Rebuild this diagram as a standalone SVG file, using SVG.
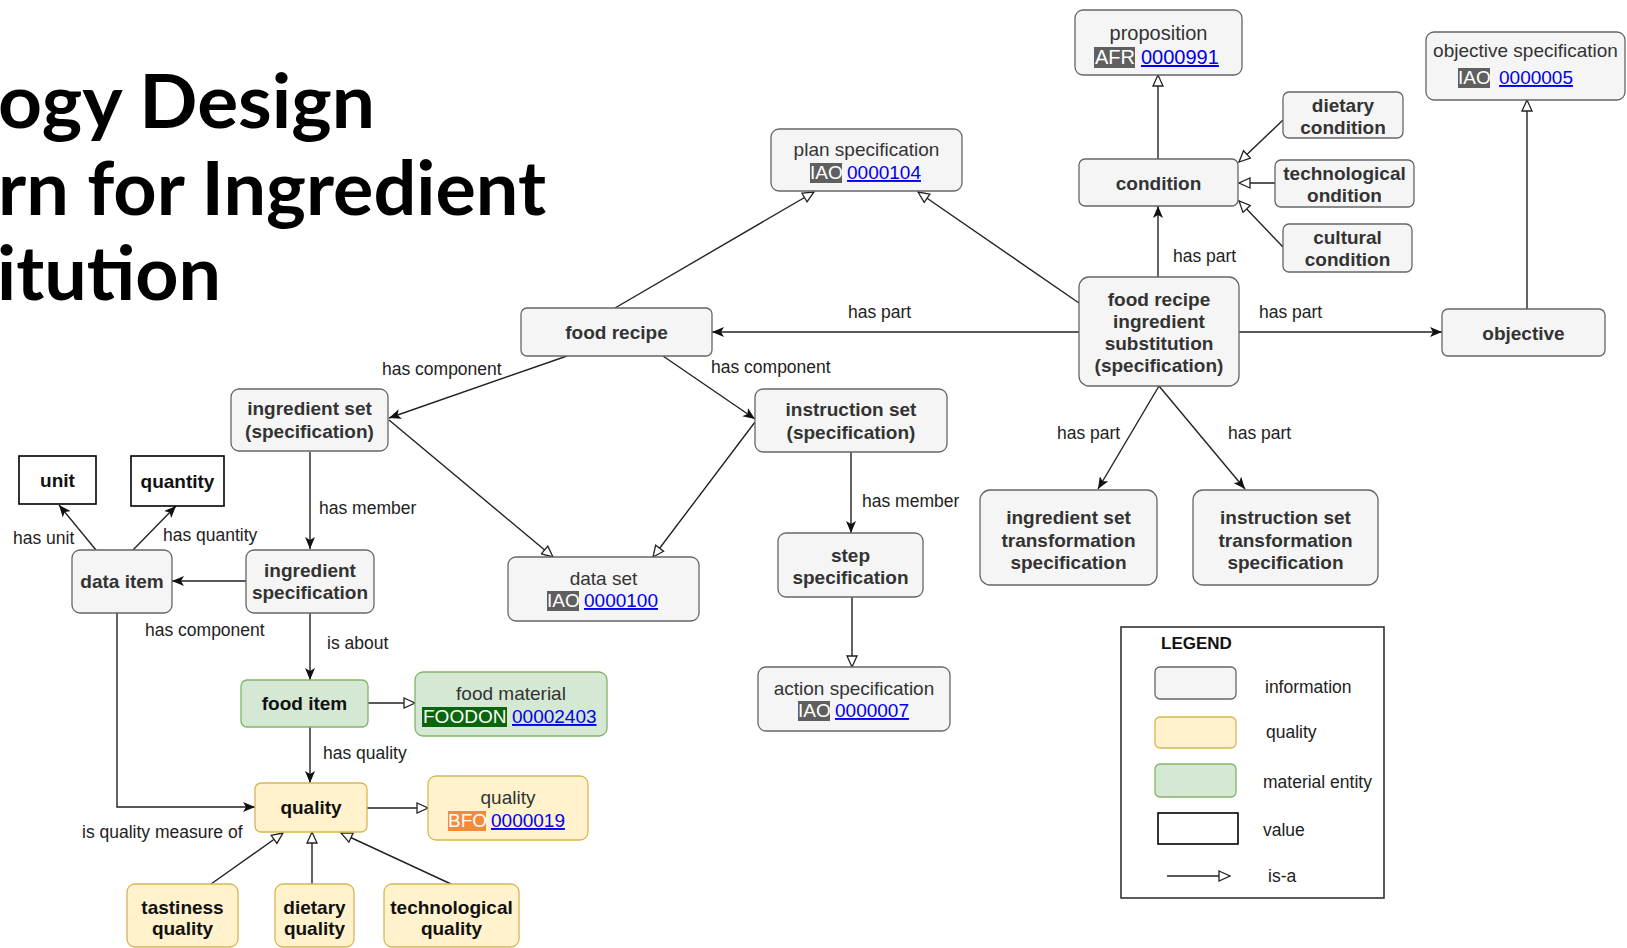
<svg xmlns="http://www.w3.org/2000/svg" width="1627" height="948" viewBox="0 0 1627 948">
  <style>
    .info { fill: #f5f5f5; stroke: #666666; stroke-width: 1.3; }
    .qual { fill: #fff2cc; stroke: #d6b656; stroke-width: 1.3; }
    .mat  { fill: #d5e8d4; stroke: #82b366; stroke-width: 1.3; }
    .val  { fill: #ffffff; stroke: #000000; stroke-width: 1.6; }
    .bt { font-family: "Liberation Sans", Arial, sans-serif; font-size: 19px; font-weight: bold; fill: #333333; text-anchor: middle; }
    .bk { fill: #111111; }
    .rt { font-family: "Liberation Sans", Arial, sans-serif; font-size: 19px; fill: #333333; text-anchor: middle; }
    .pre { font-family: "Liberation Sans", Arial, sans-serif; font-size: 19px; fill: #ffffff; }
    .num { font-family: "Liberation Sans", Arial, sans-serif; font-size: 19px; fill: #0000ee; text-decoration: underline; }
    .lbl { font-family: "Liberation Sans", Arial, sans-serif; font-size: 17.5px; fill: #222222; }
    .edge { fill: none; stroke: #222222; stroke-width: 1.4; }
    .isa { marker-end: url(#hollow); }
    .rel { marker-end: url(#solid); }
    .title { font-family: Lato, "Liberation Sans", sans-serif; font-size: 74px; font-weight: bold; fill: #000000; }
  </style>
  <defs>
    <marker id="solid" viewBox="0 0 12 10" refX="12" refY="5" markerWidth="12" markerHeight="10" markerUnits="userSpaceOnUse" orient="auto">
      <path d="M0,0 L12,5 L0,10 L3,5 z" fill="#111111"/>
    </marker>
    <marker id="hollow" viewBox="0 0 13 12" refX="12" refY="6" markerWidth="13" markerHeight="12" markerUnits="userSpaceOnUse" orient="auto">
      <path d="M1,1 L12,6 L1,11 z" fill="#ffffff" stroke="#222222" stroke-width="1.3"/>
    </marker>
  </defs>

  <rect width="1627" height="948" fill="#ffffff"/>

  <!-- heading -->
  <g id="heading">
    <text class="title" x="-2" y="128" textLength="377" lengthAdjust="spacingAndGlyphs">ogy Design</text>
    <text class="title" x="-2" y="215" textLength="548" lengthAdjust="spacingAndGlyphs">rn for Ingredient</text>
    <text class="title" x="-3" y="300" textLength="224" lengthAdjust="spacingAndGlyphs">itution</text>
  </g>

  <!-- connectors -->
  <g id="connectors">
    <line class="edge isa" x1="1158" y1="159" x2="1158" y2="75"/>
    <line class="edge isa" x1="1283" y1="120" x2="1239" y2="162"/>
    <line class="edge isa" x1="1275" y1="183" x2="1239" y2="183"/>
    <line class="edge isa" x1="1283" y1="247" x2="1239" y2="201"/>
    <line class="edge rel" x1="1158" y1="277" x2="1158" y2="206"/>
    <line class="edge rel" x1="1079" y1="332" x2="712" y2="332"/>
    <line class="edge rel" x1="1239" y1="332" x2="1442" y2="332"/>
    <line class="edge isa" x1="1079" y1="303" x2="918" y2="192"/>
    <line class="edge isa" x1="615" y1="308" x2="814" y2="192"/>
    <line class="edge isa" x1="1527" y1="309" x2="1527" y2="100"/>
    <line class="edge rel" x1="567" y1="356" x2="389" y2="418"/>
    <line class="edge rel" x1="663" y1="356" x2="755" y2="419"/>
    <line class="edge isa" x1="389" y1="420" x2="553" y2="557"/>
    <line class="edge isa" x1="755" y1="422" x2="653" y2="557"/>
    <line class="edge rel" x1="310" y1="452" x2="310" y2="549"/>
    <line class="edge rel" x1="851" y1="452" x2="851" y2="533"/>
    <line class="edge isa" x1="852" y1="597" x2="852" y2="667"/>
    <line class="edge rel" x1="246" y1="581" x2="172" y2="581"/>
    <line class="edge rel" x1="96" y1="550" x2="59" y2="505"/>
    <line class="edge rel" x1="133" y1="550" x2="176" y2="506"/>
    <line class="edge rel" x1="310" y1="613" x2="310" y2="680"/>
    <line class="edge isa" x1="368" y1="703" x2="415" y2="703"/>
    <line class="edge rel" x1="310" y1="727" x2="310" y2="783"/>
    <polyline class="edge rel" points="117,613 117,807 255,807"/>
    <line class="edge isa" x1="367" y1="808" x2="428" y2="808"/>
    <line class="edge isa" x1="211" y1="884" x2="283" y2="833"/>
    <line class="edge isa" x1="312" y1="884" x2="312" y2="832"/>
    <line class="edge isa" x1="451" y1="884" x2="341" y2="833"/>
    <line class="edge rel" x1="1159" y1="386" x2="1098" y2="489"/>
    <line class="edge rel" x1="1159" y1="386" x2="1245" y2="489"/>

    <text class="lbl" x="1173" y="262">has part</text>
    <text class="lbl" x="848" y="318">has part</text>
    <text class="lbl" x="1259" y="318">has part</text>
    <text class="lbl" x="382" y="375">has component</text>
    <text class="lbl" x="711" y="373">has component</text>
    <text class="lbl" x="319" y="514">has member</text>
    <text class="lbl" x="862" y="507">has member</text>
    <text class="lbl" x="13" y="544">has unit</text>
    <text class="lbl" x="163" y="541">has quantity</text>
    <text class="lbl" x="145" y="636">has component</text>
    <text class="lbl" x="327" y="649">is about</text>
    <text class="lbl" x="323" y="759">has quality</text>
    <text class="lbl" x="82" y="838">is quality measure of</text>
    <text class="lbl" x="1057" y="439">has part</text>
    <text class="lbl" x="1228" y="439">has part</text>
  </g>

  <!-- nodes -->
  <g id="proposition">
    <rect class="info" x="1075" y="10" width="167" height="65" rx="8"/>
    <text class="rt" x="1158.5" y="40" style="font-size:20px">proposition</text>
    <rect x="1094" y="47" width="41" height="21" fill="#5f5f5f"/>
    <text class="pre" x="1095" y="64" style="font-size:20px">AFR</text>
    <text class="num" x="1141" y="64" style="font-size:20px">0000991</text>
  </g>

  <g id="objective-specification">
    <rect class="info" x="1426" y="32" width="199" height="68" rx="8"/>
    <text class="rt" x="1525.5" y="57">objective specification</text>
    <rect x="1458" y="68" width="32" height="20" fill="#5f5f5f"/>
    <text class="pre" x="1458" y="84">IAO</text>
    <text class="num" x="1499" y="84">0000005</text>
  </g>

  <g id="plan-specification">
    <rect class="info" x="771" y="129" width="191" height="62" rx="8"/>
    <text class="rt" x="866.5" y="156">plan specification</text>
    <rect x="810" y="163" width="32" height="20" fill="#5f5f5f"/>
    <text class="pre" x="810" y="179">IAO</text>
    <text class="num" x="847" y="179">0000104</text>
  </g>

  <g id="dietary-condition">
    <rect class="info" x="1283" y="92" width="120" height="46" rx="6"/>
    <text class="bt" x="1343" y="112">dietary<tspan x="1343" dy="22">condition</tspan></text>
  </g>

  <g id="condition">
    <rect class="info" x="1079" y="159" width="159" height="47" rx="6"/>
    <text class="bt" x="1158.5" y="190">condition</text>
  </g>

  <g id="technological-condition">
    <rect class="info" x="1275" y="160" width="139" height="47" rx="6"/>
    <text class="bt" x="1344.5" y="180">technological<tspan x="1344.5" dy="22">ondition</tspan></text>
  </g>

  <g id="cultural-condition">
    <rect class="info" x="1283" y="224" width="129" height="48" rx="6"/>
    <text class="bt" x="1347.5" y="244">cultural<tspan x="1347.5" dy="22">condition</tspan></text>
  </g>

  <g id="food-recipe-ingredient-substitution">
    <rect class="info" x="1079" y="277" width="160" height="109" rx="10"/>
    <text class="bt" x="1159" y="306">food recipe<tspan x="1159" dy="22">ingredient</tspan><tspan x="1159" dy="22">substitution</tspan><tspan x="1159" dy="22">(specification)</tspan></text>
  </g>

  <g id="food-recipe">
    <rect class="info" x="521" y="308" width="191" height="48" rx="6"/>
    <text class="bt" x="616.5" y="339">food recipe</text>
  </g>

  <g id="objective">
    <rect class="info" x="1442" y="309" width="163" height="47" rx="6"/>
    <text class="bt" x="1523.5" y="340">objective</text>
  </g>

  <g id="ingredient-set">
    <rect class="info" x="231" y="389" width="157" height="62" rx="8"/>
    <text class="bt" x="309.5" y="415">ingredient set<tspan x="309.5" dy="23">(specification)</tspan></text>
  </g>

  <g id="instruction-set">
    <rect class="info" x="755" y="389" width="192" height="63" rx="8"/>
    <text class="bt" x="851" y="416">instruction set<tspan x="851" dy="23">(specification)</tspan></text>
  </g>

  <g id="unit">
    <rect class="val" x="19" y="456" width="77" height="48"/>
    <text class="bt bk" x="57.5" y="487">unit</text>
  </g>

  <g id="quantity">
    <rect class="val" x="131" y="456" width="93" height="50"/>
    <text class="bt bk" x="177.5" y="488">quantity</text>
  </g>

  <g id="data-item">
    <rect class="info" x="72" y="550" width="100" height="63" rx="8"/>
    <text class="bt" x="122" y="588">data item</text>
  </g>

  <g id="ingredient-specification">
    <rect class="info" x="246" y="550" width="128" height="63" rx="8"/>
    <text class="bt" x="310" y="577">ingredient<tspan x="310" dy="22">specification</tspan></text>
  </g>

  <g id="data-set">
    <rect class="info" x="508" y="557" width="191" height="64" rx="8"/>
    <text class="rt" x="603.5" y="585">data set</text>
    <rect x="547" y="591" width="32" height="20" fill="#5f5f5f"/>
    <text class="pre" x="547" y="607">IAO</text>
    <text class="num" x="584" y="607">0000100</text>
  </g>

  <g id="step-specification">
    <rect class="info" x="778" y="533" width="145" height="64" rx="8"/>
    <text class="bt" x="850.5" y="562">step<tspan x="850.5" dy="22">specification</tspan></text>
  </g>

  <g id="ingredient-set-transformation">
    <rect class="info" x="980" y="490" width="177" height="95" rx="10"/>
    <text class="bt" x="1068.5" y="524">ingredient set<tspan x="1068.5" dy="22.5">transformation</tspan><tspan x="1068.5" dy="22.5">specification</tspan></text>
  </g>

  <g id="instruction-set-transformation">
    <rect class="info" x="1193" y="490" width="185" height="95" rx="10"/>
    <text class="bt" x="1285.5" y="524">instruction set<tspan x="1285.5" dy="22.5">transformation</tspan><tspan x="1285.5" dy="22.5">specification</tspan></text>
  </g>

  <g id="food-item">
    <rect class="mat" x="241" y="680" width="127" height="47" rx="6"/>
    <text class="bt bk" x="304.5" y="710">food item</text>
  </g>

  <g id="food-material">
    <rect class="mat" x="415" y="672" width="192" height="64" rx="8"/>
    <text class="rt bk" x="511" y="700">food material</text>
    <rect x="422" y="707" width="85" height="20" fill="#0b650b"/>
    <text class="pre" x="423" y="723">FOODON</text>
    <text class="num" x="512" y="723">00002403</text>
  </g>

  <g id="action-specification">
    <rect class="info" x="758" y="667" width="192" height="64" rx="8"/>
    <text class="rt" x="854" y="695">action specification</text>
    <rect x="798" y="701" width="32" height="20" fill="#5f5f5f"/>
    <text class="pre" x="798" y="717">IAO</text>
    <text class="num" x="835" y="717">0000007</text>
  </g>

  <g id="quality">
    <rect class="qual" x="255" y="783" width="112" height="49" rx="6"/>
    <text class="bt bk" x="311" y="814">quality</text>
  </g>

  <g id="quality-bfo">
    <rect class="qual" x="428" y="776" width="160" height="64" rx="8"/>
    <text class="rt bk" x="508" y="804">quality</text>
    <rect x="448" y="811" width="38" height="20" fill="#f38b3a"/>
    <text class="pre" x="448" y="827">BFO</text>
    <text class="num" x="491" y="827">0000019</text>
  </g>

  <g id="tastiness-quality">
    <rect class="qual" x="127" y="884" width="111" height="63" rx="8"/>
    <text class="bt bk" x="182.5" y="914">tastiness<tspan x="182.5" dy="21">quality</tspan></text>
  </g>

  <g id="dietary-quality">
    <rect class="qual" x="275" y="884" width="79" height="63" rx="8"/>
    <text class="bt bk" x="314.5" y="914">dietary<tspan x="314.5" dy="21">quality</tspan></text>
  </g>

  <g id="technological-quality">
    <rect class="qual" x="384" y="884" width="135" height="63" rx="8"/>
    <text class="bt bk" x="451.5" y="914">technological<tspan x="451.5" dy="21">quality</tspan></text>
  </g>

  <!-- legend -->
  <g id="legend">
    <rect x="1121" y="627" width="263" height="271" fill="#ffffff" stroke="#333333" stroke-width="1.6"/>
    <text x="1161" y="649" style="font-family:'Liberation Sans',Arial,sans-serif;font-size:17px;font-weight:bold;fill:#111">LEGEND</text>
    <rect class="info" x="1155" y="667" width="81" height="32" rx="5"/>
    <rect class="qual" x="1155" y="717" width="81" height="31" rx="5"/>
    <rect class="mat" x="1155" y="764" width="81" height="33" rx="5"/>
    <rect class="val" x="1158" y="813" width="80" height="31"/>
    <line class="edge isa" x1="1167" y1="876" x2="1230" y2="876"/>
    <text class="lbl" x="1265" y="693">information</text>
    <text class="lbl" x="1266" y="738">quality</text>
    <text class="lbl" x="1263" y="788">material entity</text>
    <text class="lbl" x="1263" y="836">value</text>
    <text class="lbl" x="1268" y="882">is-a</text>
  </g>
</svg>
